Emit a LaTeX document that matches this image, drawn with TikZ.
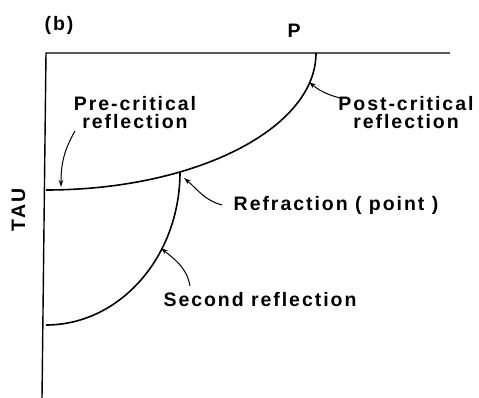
\documentclass[tikz,border=0pt]{standalone}
\usepackage{fontspec}
\setmainfont{Liberation Sans}[LetterSpace=10]
\usetikzlibrary{arrows.meta}
\tikzset{x=1pt,y=1pt}

\begin{document}
\begin{tikzpicture}[
  lbl/.style={font=\fontsize{19.5}{18}\selectfont\bfseries, inner sep=0pt, align=center},
  curve/.style={line width=1.6pt},
  pointer/.style={line width=1pt, -{Stealth[length=7pt,width=4.5pt]}}]
  \useasboundingbox (0,0) rectangle (479,398);
  % axes
  \coordinate (orig) at (46,345);
  \coordinate (pend) at (450,345);
  \coordinate (tend) at (42,0);
  \draw[line width=1.4pt] (pend) -- (orig) -- (tend);
  \node[lbl, anchor=base] (pax) at (294,360) {P};
  \node[lbl, anchor=base, rotate=90] (tau) at (25,188) {TAU};
  \node[lbl, anchor=base] (panel) at (59,367) {(b)};
  % reflection curves
  \coordinate (refr) at (180,226);
  \draw[curve] (316,345) arc[start angle=0, end angle=-90, x radius=270, y radius=137];
  \draw[curve] (refr) arc[start angle=0, end angle=-90, x radius=134, y radius=153];
  % labels
  \node[lbl, anchor=north] (pre) at (135,302) {Pre-critical\\reflection};
  \node[lbl, anchor=north] (post) at (406,302) {Post-critical\\reflection};
  \node[lbl, anchor=base] (rlab) at (336,187) {Refraction ( point )};
  \node[lbl, anchor=base] (second) at (260,91) {Second reflection};
  % pointers
  \coordinate (pretail) at (75,267);
  \coordinate (pretip) at (61,211);
  \coordinate (posttail) at (340,300);
  \coordinate (posttip) at (309,316);
  \coordinate (rtail) at (222,193);
  \coordinate (rtip) at (184,220);
  \coordinate (stail) at (190,112);
  \coordinate (stip) at (161,150);
  \draw[pointer] (pretail) to[out=-120, in=90] (pretip);
  \draw[pointer] (posttail) to[out=165, in=-40] (posttip);
  \draw[pointer] (rtail) to[out=165, in=-40] (rtip);
  \draw[pointer] (stail) to[out=100, in=-40] (stip);
\end{tikzpicture}
\end{document}
